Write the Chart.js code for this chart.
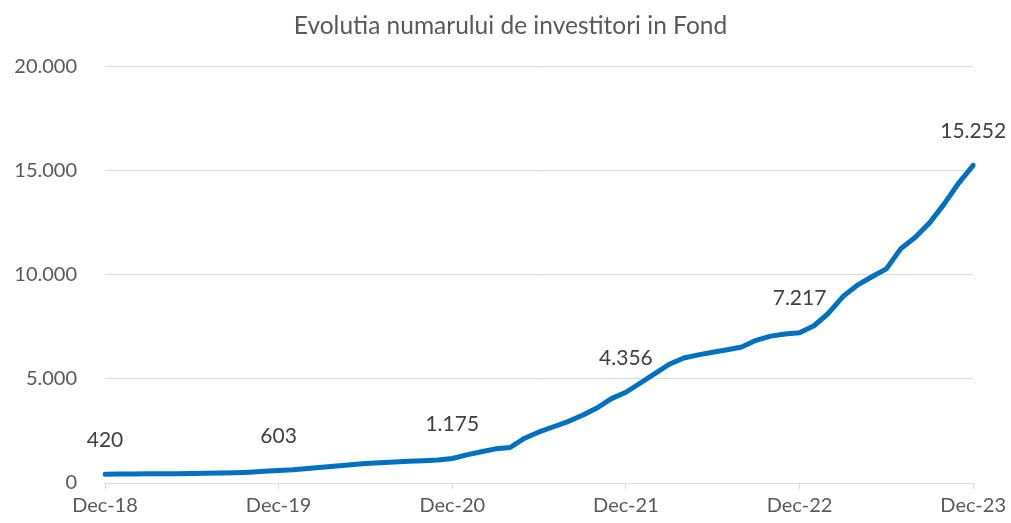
<!DOCTYPE html>
<html>
<head>
<meta charset="utf-8">
<script src="https://cdn.jsdelivr.net/npm/chart.js@4"></script>
<style>
  html, body { margin: 0; padding: 0; background: #fff; }
  #wrap { width: 1011px; height: 523px; }
</style>
</head>
<body>
<div id="wrap"><canvas id="c"></canvas></div>
<script>
// categorii: lunar, Dec-18 .. Dec-23
const monthNames = ["Dec", "Jan", "Feb", "Mar", "Apr", "May", "Jun", "Jul", "Aug", "Sep", "Oct", "Nov"];
const years = ["18", "19", "20", "21", "22", "23"];
const months = [];
for (let i = 0; i <= 60; i++) {
  const y = years[Math.floor((i + 11) / 12)];
  months.push(monthNames[i % 12] + "-" + (i % 12 === 0 ? years[i / 12] : y));
}

// numar investitori
const investitori = [
  420, 428, 435, 440, 445, 450, 458, 465, 475, 490, 520, 565,
  603, 640, 700, 760, 820, 880, 940, 975, 1010, 1040, 1070, 1100,
  1175, 1350, 1500, 1640, 1705, 2150, 2450, 2700, 2950, 3250, 3600, 4050,
  4356, 4800, 5250, 5700, 6000, 6150, 6280, 6400, 6530, 6850, 7050, 7150,
  7217, 7550, 8150, 8950, 9500, 9900, 10280, 11250, 11800, 12500, 13400, 14400,
  15252
];

const yTicks = [0, 5000, 10000, 15000, 20000];
const labelStep = 12;

const fmt = v => String(v).replace(/\B(?=(\d{3})+(?!\d))/g, ".");

// etichete de date la fiecare decembrie
const dataLabels = {
  id: "dataLabels",
  afterDatasetsDraw(chart) {
    const ctx = chart.ctx;
    const meta = chart.getDatasetMeta(0);
    ctx.save();
    ctx.font = "21px Lato";
    ctx.fillStyle = "#404040";
    ctx.textAlign = "center";
    ctx.textBaseline = "middle";
    meta.data.forEach((pt, i) => {
      if (i % labelStep !== 0) return;
      ctx.fillText(fmt(investitori[i]), pt.x, pt.y - 34);
    });
    ctx.restore();
  }
};

new Chart(document.getElementById("c"), {
  type: "line",
  data: {
    labels: months,
    datasets: [{
      data: investitori,
      borderColor: "#0070C0",
      borderWidth: 5,
      borderCapStyle: "round",
      borderJoinStyle: "round",
      pointRadius: 0,
      tension: 0,
      fill: false
    }]
  },
  options: {
    responsive: true,
    maintainAspectRatio: false,
    animation: false,
    layout: { padding: { left: 10, right: 0, bottom: 0 } },
    plugins: {
      legend: { display: false },
      tooltip: { enabled: false },
      title: {
        display: true,
        text: "Evolutia numarului de investitori in Fond",
        color: "#595959",
        font: { family: "Lato", size: 24.5, weight: "normal" },
        padding: { top: 11, bottom: 26 }
      }
    },
    scales: {
      x: {
        offset: false,
        grid: {
          drawOnChartArea: false,
          drawTicks: true,
          tickLength: 6,
          color: ctx => (ctx.index % labelStep === 0 ? "#d9d9d9" : "rgba(0,0,0,0)")
        },
        border: { color: "#d9d9d9", width: 1 },
        ticks: {
          autoSkip: false,
          maxRotation: 0,
          padding: 5,
          color: "#595959",
          font: { family: "Lato", size: 20 },
          callback: (v, i) => (i % labelStep === 0 ? months[i] : "")
        }
      },
      y: {
        min: 0,
        max: 20000,
        afterFit: s => { s.width = 95; },
        afterBuildTicks: s => { s.ticks = yTicks.map(v => ({ value: v })); },
        grid: { color: "#d9d9d9", lineWidth: 1, drawTicks: false },
        border: { display: false },
        ticks: {
          padding: 28,
          color: "#595959",
          font: { family: "Lato", size: 20 },
          callback: v => fmt(v)
        }
      }
    }
  },
  plugins: [dataLabels]
});
</script>
</body>
</html>
